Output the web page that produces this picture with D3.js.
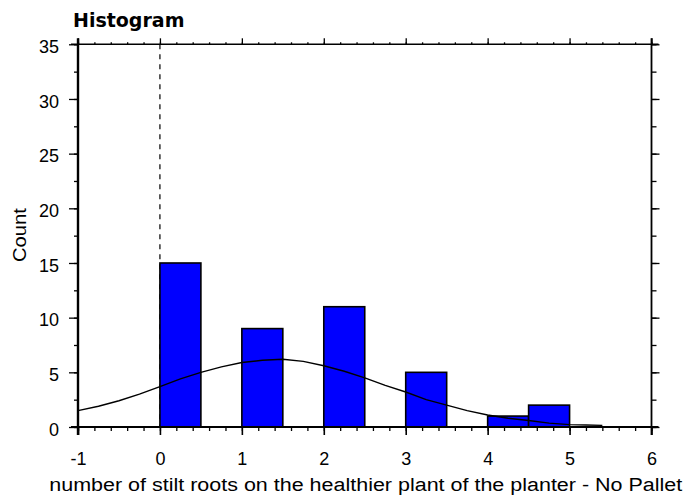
<!DOCTYPE html>
<html>
<head>
<meta charset="utf-8">
<script src="https://cdn.jsdelivr.net/npm/d3@7"></script>
<style>
  html, body { margin: 0; padding: 0; background: #fff; }
  svg { display: block; }
  .tick text { font-family: "Liberation Sans", Arial, sans-serif; font-size: 18px; fill: #000; }
</style>
</head>
<body>
<svg id="chart" width="684" height="498"></svg>
<script>
// ---- data ----
const binStarts = [0, 1, 2, 3, 4, 4.5];
const binEnds   = [0.5, 1.5, 2.5, 3.5, 4.5, 5];
const counts    = [15, 9, 11, 5, 1, 2];

const curveX = [-1, -0.75, -0.5, -0.25, 0, 0.25, 0.5, 0.75, 1, 1.25, 1.5, 1.75, 2, 2.25, 2.5, 2.75, 3, 3.25, 3.5, 3.75, 4, 4.25, 4.5, 4.75, 5, 5.2, 5.4];
const curveY = [1.5, 1.9, 2.4, 3.0, 3.7, 4.4, 5.0, 5.5, 5.9, 6.1, 6.2, 6.0, 5.6, 5.1, 4.5, 3.8, 3.2, 2.5, 2.0, 1.5, 1.1, 0.8, 0.6, 0.35, 0.22, 0.18, 0.15];

const xTicks = [-1, 0, 1, 2, 3, 4, 5, 6];
const yTicks = [0, 5, 10, 15, 20, 25, 30, 35];
const refLineX = 0;

const title = "Histogram";
const xLabel = "number of stilt roots on the healthier plant of the planter - No Pallet";
const yLabel = "Count";

// ---- layout ----
const svg = d3.select("#chart");
const x = d3.scaleLinear().domain([-1, 6]).range([78, 651.5]);
const y = d3.scaleLinear().domain([0, 35]).range([427, 44.3]);
const [x0, x1] = x.range();
const [yb, yt] = y.range();

svg.append("rect").attr("width", 684).attr("height", 498).attr("fill", "#fff");

// reference dashed line at x = 0
svg.append("line")
  .attr("x1", x(refLineX)).attr("x2", x(refLineX))
  .attr("y1", yt).attr("y2", yb)
  .attr("stroke", "#000").attr("stroke-width", 1.2)
  .attr("stroke-dasharray", "5,5");

// bars
svg.append("g").selectAll("rect")
  .data(counts)
  .join("rect")
  .attr("x", (d, i) => x(binStarts[i]))
  .attr("width", (d, i) => x(binEnds[i]) - x(binStarts[i]))
  .attr("y", d => y(d))
  .attr("height", d => y(0) - y(d))
  .attr("fill", "#0000ff")
  .attr("stroke", "#000")
  .attr("stroke-width", 1.6);

// normal curve
const line = d3.line().x((d, i) => x(curveX[i])).y(d => y(d));
svg.append("path")
  .datum(curveY)
  .attr("d", line)
  .attr("fill", "none")
  .attr("stroke", "#000")
  .attr("stroke-width", 1.4);

// ---- axes ----
const minorX = d3.range(-1, 6.0001, 0.2).map(v => +v.toFixed(2));
const minorY = d3.range(0, 35.0001, 2.5);
const fmt = d => String(d);

function styleAxis(g) {
  g.select(".domain").remove();
  g.selectAll(".tick line").attr("stroke", "#000").attr("stroke-width", 1.3);
}

// bottom
svg.append("g").attr("transform", `translate(0,${yb})`)
  .call(d3.axisBottom(x).tickValues(minorX).tickSize(4).tickFormat(""))
  .call(styleAxis);
svg.append("g").attr("transform", `translate(0,${yb})`)
  .call(d3.axisBottom(x).tickValues(xTicks).tickSize(8).tickPadding(17).tickFormat(fmt))
  .call(styleAxis)
  .call(g => g.selectAll(".tick line").attr("stroke-width", 1.6));

// top
svg.append("g").attr("transform", `translate(0,${yt})`)
  .call(d3.axisTop(x).tickValues(minorX).tickSize(2).tickFormat(""))
  .call(styleAxis);
svg.append("g").attr("transform", `translate(0,${yt})`)
  .call(d3.axisTop(x).tickValues(xTicks).tickSize(6).tickFormat(""))
  .call(styleAxis);

// left
svg.append("g").attr("transform", `translate(${x0},0)`)
  .call(d3.axisLeft(y).tickValues(minorY).tickSize(4).tickFormat(""))
  .call(styleAxis);
svg.append("g").attr("transform", `translate(${x0},0)`)
  .call(d3.axisLeft(y).tickValues(yTicks).tickSize(9).tickPadding(10).tickFormat(fmt))
  .call(styleAxis)
  .call(g => g.selectAll(".tick text").attr("dy", "0.45em"));

// right
svg.append("g").attr("transform", `translate(${x1},0)`)
  .call(d3.axisRight(y).tickValues(minorY).tickSize(5).tickFormat(""))
  .call(styleAxis);
svg.append("g").attr("transform", `translate(${x1},0)`)
  .call(d3.axisRight(y).tickValues(yTicks).tickSize(8).tickFormat(""))
  .call(styleAxis);

// frame lines
svg.append("line").attr("x1", x0 - 7).attr("x2", x1 + 7).attr("y1", yb).attr("y2", yb)
  .attr("stroke", "#000").attr("stroke-width", 2);
svg.append("line").attr("x1", x0 - 7).attr("x2", x1 + 7).attr("y1", yt).attr("y2", yt)
  .attr("stroke", "#000").attr("stroke-width", 1.5);
svg.append("line").attr("x1", x0).attr("x2", x0).attr("y1", yt - 6).attr("y2", yb + 8)
  .attr("stroke", "#000").attr("stroke-width", 2.4);
svg.append("line").attr("x1", x1).attr("x2", x1).attr("y1", yt - 6).attr("y2", yb + 8)
  .attr("stroke", "#000").attr("stroke-width", 1.8);

// ---- text ----
svg.append("text")
  .attr("x", 73).attr("y", 26.5)
  .attr("font-family", "'DejaVu Sans', sans-serif")
  .attr("font-weight", "bold").attr("font-size", 19)
  .text(title);

svg.append("text")
  .attr("x", (x0 + x1) / 2 + 1).attr("y", 490.5)
  .attr("text-anchor", "middle")
  .attr("font-family", "'Liberation Sans', Arial, sans-serif")
  .attr("font-size", 18)
  .attr("textLength", 633).attr("lengthAdjust", "spacingAndGlyphs")
  .text(xLabel);

svg.append("text")
  .attr("transform", `translate(26,235) rotate(-90)`)
  .attr("text-anchor", "middle")
  .attr("font-family", "'Liberation Sans', Arial, sans-serif")
  .attr("font-size", 18)
  .attr("textLength", 54).attr("lengthAdjust", "spacingAndGlyphs")
  .text(yLabel);
</script>
</body>
</html>
